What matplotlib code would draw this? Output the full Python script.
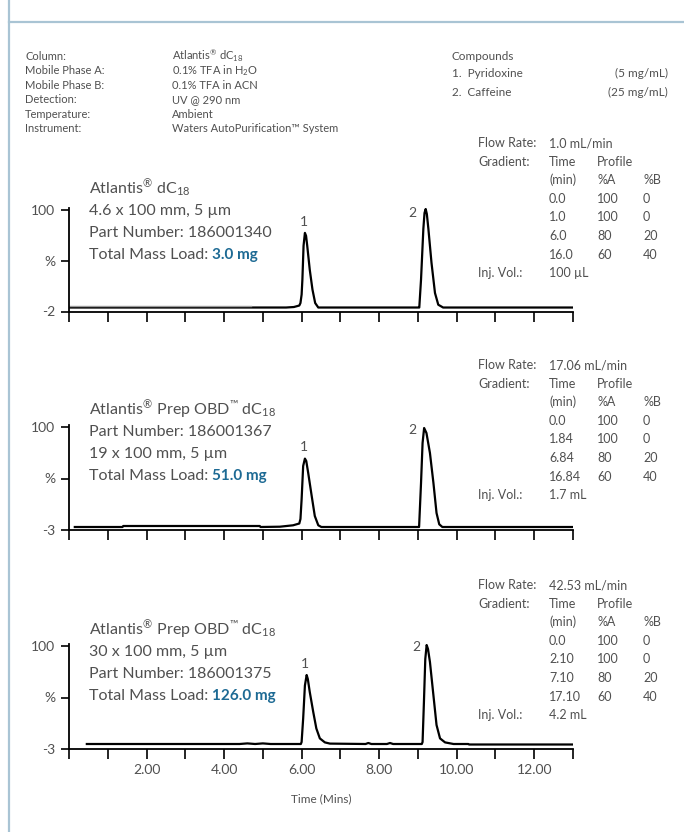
import matplotlib
matplotlib.use("Agg")
import matplotlib.pyplot as plt
from matplotlib.lines import Line2D

# --- Data ---
# chromatogram traces: time (min) vs. signal (%)
P1_T = [0.03, 4.70, 5.60, 5.80, 5.94, 5.97, 6.00, 6.02, 6.05, 6.085, 6.115, 6.145, 6.21, 6.28,
        6.35, 6.43, 6.55, 9.00, 9.035, 9.08, 9.14, 9.17, 9.20, 9.23, 9.27, 9.35, 9.44, 9.525,
        9.65, 13.0]
P1_V = [2.0, 2.0, 2.0, 2.5, 4.0, 6.5, 15, 30, 64, 77, 74, 64, 40, 20,
        6.5, 2.0, 2.0, 2.0, 2.0, 30, 81, 97, 101, 96, 81, 47, 16.6, 4.8,
        2.0, 2.0]
P1_GRAY_T = [0.0, 4.70]
P1_GRAY_V = [3.3, 3.3]

P2_T = [0.15, 1.38, 1.40, 4.92, 4.94, 5.44, 5.78, 5.94, 5.97, 6.00, 6.04, 6.085, 6.12,
        6.17, 6.26, 6.34, 6.43, 6.51, 9.00, 9.03, 9.08, 9.12, 9.16, 9.22, 9.31, 9.40,
        9.48, 9.55, 9.63, 13.0]
P2_V = [0.0, 0.0, 1.0, 1.0, 0.0, 0.3, 1.7, 3.5, 8.0, 27.7, 61, 68.4, 66,
        54, 31, 11, 1.7, 0.0, 0.0, 0.0, 44, 84, 99, 94, 74, 44,
        14, 2.7, 0.0, 0.0]

P3_T = [0.46, 4.40, 4.60, 4.80, 5.00, 5.20, 5.98, 6.00, 6.04, 6.085, 6.13, 6.16, 6.21,
        6.30, 6.38, 6.47, 6.60, 6.73, 7.65, 7.72, 7.80, 8.20, 8.28, 8.36, 9.10, 9.12,
        9.155, 9.19, 9.225, 9.26, 9.31, 9.40, 9.48, 9.57, 9.70, 9.92, 10.30, 10.32, 13.0]
P3_V = [2.0, 2.0, 2.6, 2.0, 2.6, 2.0, 2.0, 4.0, 27.5, 60.5, 71, 67, 54,
        34, 17.5, 7.6, 3.6, 2.4, 2.0, 3.0, 2.0, 2.0, 3.0, 2.0, 2.0, 4.0,
        44, 87, 101, 97, 84, 50.6, 21, 7.6, 3.6, 2.0, 2.0, 1.5, 1.5]

TRACES_T = [P1_T, P2_T, P3_T]
TRACES_V = [P1_V, P2_V, P3_V]
Y_BOTTOM = [-2, -3, -3]
PEAK_LABEL_POS = [[(6.05, 82), (8.85, 91)],
                  [(6.05, 74), (8.85, 91)],
                  [(6.08, 76), (8.95, 93)]]

X_TICKS = list(range(0, 14))
X_LABELS = ["2.00", "4.00", "6.00", "8.00", "10.00", "12.00"]

INFO_LABELS = ["Column:", "Mobile Phase A:", "Mobile Phase B:", "Detection:",
               "Temperature:", "Instrument:"]
INFO_VALUES = [r"Atlantis$^{\mathrm{®}}$ dC$_{18}$", r"0.1% TFA in H$_2$O",
               "0.1% TFA in ACN", "UV @ 290 nm", "Ambient",
               "Waters AutoPurification™ System"]
COMPOUNDS = ["1.  Pyridoxine", "2.  Caffeine"]
CONCS = ["(5 mg/mL)", "(25 mg/mL)"]

FLOW = ["1.0 mL/min", "17.06 mL/min", "42.53 mL/min"]
GRAD_TIME = [["0.0", "1.0", "6.0", "16.0"],
             ["0.0", "1.84", "6.84", "16.84"],
             ["0.0", "2.10", "7.10", "17.10"]]
PCT_A = ["100", "100", "80", "60"]
PCT_B = ["0", "0", "20", "40"]
INJ = ["100 µL", "1.7 mL", "4.2 mL"]

COL_LINES = [[r"Atlantis$^{\mathrm{®}}$ dC$_{18}$", "4.6 x 100 mm, 5 µm", "Part Number: 186001340"],
             [r"Atlantis$^{\mathrm{®}}$ Prep OBD$^{\mathrm{™}}$ dC$_{18}$", "Part Number: 186001367", "19 x 100 mm, 5 µm"],
             [r"Atlantis$^{\mathrm{®}}$ Prep OBD$^{\mathrm{™}}$ dC$_{18}$", "30 x 100 mm, 5 µm", "Part Number: 186001375"]]
MASS_LOAD = ["3.0 mg", "51.0 mg", "126.0 mg"]

# --- Style ---
W, H = 684, 832
GRAY = "#505050"
BLUE = "#1d6a94"
FONT = "Lato"
plt.rcParams["font.family"] = [FONT, "DejaVu Sans"]
plt.rcParams["mathtext.fontset"] = "custom"
plt.rcParams["mathtext.rm"] = FONT
plt.rcParams["mathtext.it"] = FONT
plt.rcParams["mathtext.bf"] = FONT

fig = plt.figure(figsize=(W / 100, H / 100), dpi=100)


def ftext(x, y, s, size=8, **kw):
    kw.setdefault("color", GRAY)
    kw.setdefault("va", "center")
    return fig.text(x / W, 1 - y / H, s, fontsize=size, **kw)


# frame lines
fig.add_artist(Line2D([9 / W, 9 / W], [0, 1], transform=fig.transFigure, color="#a9c4d4", lw=1.6))
fig.add_artist(Line2D([9 / W, 1], [1 - 22 / H, 1 - 22 / H], transform=fig.transFigure,
                      color="#a9c4d4", lw=1.6))

# info block
for i, (lab, val) in enumerate(zip(INFO_LABELS, INFO_VALUES)):
    y = 56 + i * 14.6
    ftext(25, y, lab)
    ftext(172, y, val)
ftext(452, 56, "Compounds", size=8.5)
for i, (c, q) in enumerate(zip(COMPOUNDS, CONCS)):
    ftext(452, 73.5 + i * 18.5, c, size=8.5)
    ftext(668, 73.5 + i * 18.5, q, ha="right", size=8.5)

# axes panels: (left px, right px, bottom px, top px)
panel_box = [(69, 573, 311.5, 208), (69, 573, 530, 425), (69, 573, 749, 644)]
table_top = [143, 365, 585]
label_top = [189, 410, 630]
TS = 9  # table font size

for k in range(3):
    l, r, b, t = panel_box[k]
    ax = fig.add_axes([l / W, 1 - b / H, (r - l) / W, (b - t) / H])
    ax.plot(TRACES_T[k], TRACES_V[k], color="black", lw=1.6, solid_joinstyle="round")
    if k == 0:
        ax.plot(P1_GRAY_T, P1_GRAY_V, color="#999999", lw=1.0)
    ax.set_xlim(0, 13)
    ax.set_ylim(Y_BOTTOM[k], 102)
    for s in ["top", "right"]:
        ax.spines[s].set_visible(False)
    for s in ["left", "bottom"]:
        ax.spines[s].set_linewidth(1.3)
    ax.set_yticks([Y_BOTTOM[k], (Y_BOTTOM[k] + 100) / 2, 100])
    ax.set_yticklabels([str(Y_BOTTOM[k]), "%", "100"])
    ax.set_xticks(X_TICKS)
    if k == 2:
        ax.set_xticklabels(["" if (x % 2 or x == 0) else X_LABELS[x // 2 - 1] for x in X_TICKS])
        ax.set_xlabel("Time (Mins)", fontsize=8.5, color=GRAY, labelpad=12)
    else:
        ax.set_xticklabels([])
    ax.tick_params(direction="out", length=7, width=1.2, colors="black",
                   labelcolor=GRAY, labelsize=10, pad=4)
    ax.tick_params(axis="y", length=6)
    for n, (px, py) in enumerate(PEAK_LABEL_POS[k]):
        ax.text(px, py, str(n + 1), color=GRAY, fontsize=10, ha="center", va="bottom")

    # gradient table
    y0 = table_top[k]
    dy = 18.6
    ftext(478, y0, "Flow Rate:", size=TS)
    ftext(549, y0, FLOW[k], size=TS)
    ftext(478, y0 + dy, "Gradient:", size=TS)
    ftext(549, y0 + dy, "Time", size=TS)
    ftext(597, y0 + dy, "Profile", size=TS)
    ftext(549, y0 + 2 * dy, "(min)", size=TS)
    ftext(597, y0 + 2 * dy, "%A", size=TS)
    ftext(643, y0 + 2 * dy, "%B", size=TS)
    for i in range(4):
        ftext(549, y0 + (3 + i) * dy, GRAD_TIME[k][i], size=TS)
        ftext(597, y0 + (3 + i) * dy, PCT_A[i], size=TS)
        ftext(643, y0 + (3 + i) * dy, PCT_B[i], size=TS)
    ftext(478, y0 + 7 * dy, "Inj. Vol.:", size=TS)
    ftext(549, y0 + 7 * dy, INJ[k], size=TS)

    # column description
    ly = label_top[k]
    for i, s in enumerate(COL_LINES[k]):
        ftext(89, ly + i * 22, s, size=11.5)
    t1 = ftext(89, ly + 3 * 22, "Total Mass Load: ", size=11.5)
    fig.canvas.draw()
    bb = t1.get_window_extent(fig.canvas.get_renderer())
    fig.text(bb.x1 / W, 1 - (ly + 3 * 22) / H, MASS_LOAD[k], fontsize=11, color=BLUE,
             fontweight="bold", va="center")

fig.savefig("out.png", dpi=100)
